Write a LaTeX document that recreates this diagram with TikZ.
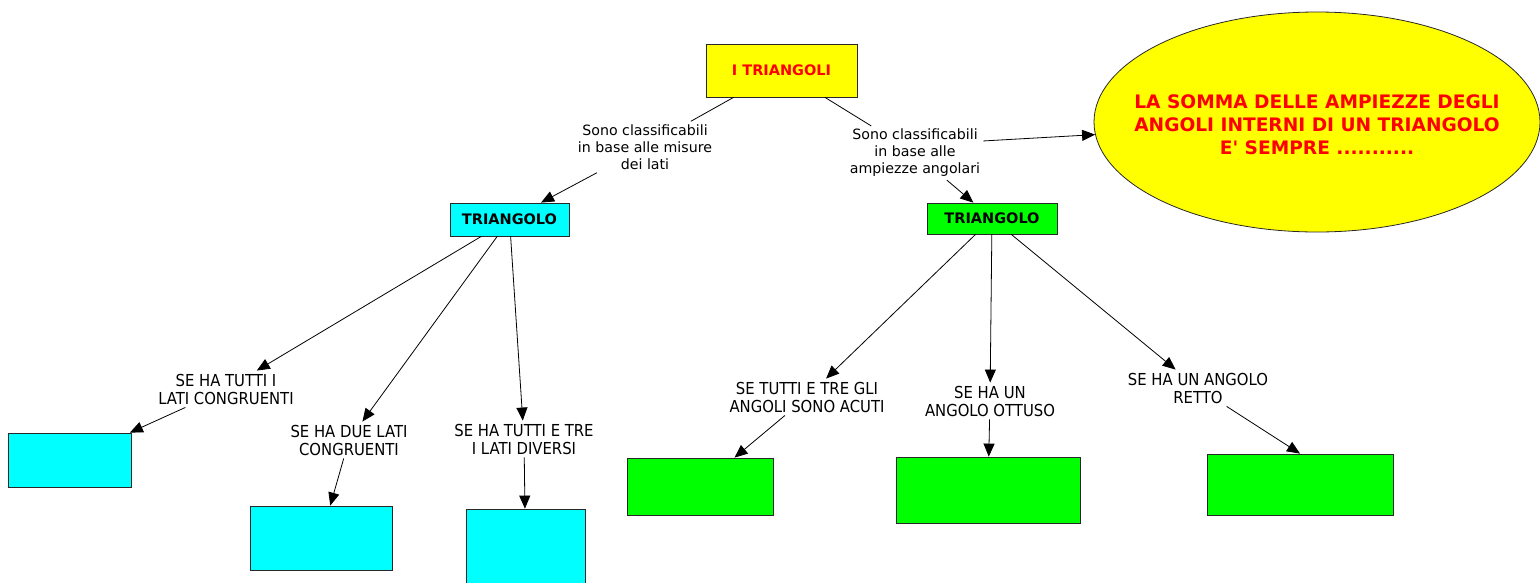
\documentclass[tikz,border=0pt]{standalone}
\usepackage{fontspec}
\setmainfont{DejaVu Sans}
\newfontfamily\condfont{DejaVu Sans Condensed}
\usetikzlibrary{arrows.meta,shapes.geometric}
\definecolor{mapyellow}{RGB}{255,255,0}
\definecolor{mapred}{RGB}{255,0,0}
\definecolor{mapcyan}{RGB}{0,255,255}
\definecolor{mapgreen}{RGB}{0,255,0}
\definecolor{mapedge}{RGB}{40,40,40}

\begin{document}
\begin{tikzpicture}[x=1pt, y=-1pt,
  box/.style={draw=mapedge, line width=0.8pt, inner sep=0pt},
  link/.style={line width=0.8pt},
  arr/.style={line width=0.8pt, -{Triangle[length=13pt,width=11pt]}},
  why/.style={align=center, font=\fontsize{14.2}{17}\selectfont, inner sep=3pt},
  cond/.style={align=center, font=\condfont\fontsize{16.5}{18}\selectfont, inner sep=3pt}]
\useasboundingbox (0,0) rectangle (1540,582);

% Top of the map
\node[box, fill=mapyellow, minimum width=151pt, minimum height=53pt,
  font=\bfseries\fontsize{14.5}{16}\selectfont, text=mapred] (top) at (781.5,70.5) {I TRIANGOLI};
\node[box, ellipse, fill=mapyellow, minimum width=446pt, minimum height=220pt] (sum) at (1317,122) {};
\node[align=center, font=\bfseries\fontsize{18.6}{23}\selectfont, text=mapred] (sumtext) at (1317,125)
  {LA SOMMA DELLE AMPIEZZE DEGLI\\ANGOLI INTERNI DI UN TRIANGOLO\\E\textquotesingle{} SEMPRE ...........};

% Linking phrases
\node[why] (bysides) at (645,147) {Sono classificabili\\in base alle misure\\dei lati};
\node[why] (byangles) at (915,153) {Sono classificabili\\in base alle\\ampiezze angolari};

% Middle boxes
\node[box, fill=mapcyan, minimum width=119pt, minimum height=33pt,
  font=\bfseries\fontsize{14.5}{16}\selectfont] (tsides) at (509.5,219.5) {TRIANGOLO};
\node[box, fill=mapgreen, minimum width=130pt, minimum height=31pt,
  font=\bfseries\fontsize{14.5}{16}\selectfont] (tangles) at (992,218.5) {TRIANGOLO};

\draw[link] (top) -- (bysides);
\draw[link] (top) -- (byangles);
\draw[arr] (bysides) -- (tsides);
\draw[arr] (byangles) -- (tangles);
\draw[arr] (byangles.10) -- (sum);

% Classification by sides
\node[cond] (equi) at (226,389) {SE HA TUTTI I\\LATI CONGRUENTI};
\node[cond] (iso) at (349,440) {SE HA DUE LATI\\CONGRUENTI};
\node[cond] (scal) at (524,439) {SE HA TUTTI E TRE\\I LATI DIVERSI};
\node[box, fill=mapcyan, minimum width=123pt, minimum height=54pt] (equibox) at (69.5,460) {};
\node[box, fill=mapcyan, minimum width=142pt, minimum height=64pt] (isobox) at (321,538) {};
\node[box, fill=mapcyan, minimum width=119pt, minimum height=80pt] (scalbox) at (525.5,549) {};

\draw[arr] (tsides) -- (equi);
\draw[arr] (tsides) -- (iso);
\draw[arr] (tsides) -- (scal);
\draw[arr] (equi) -- (equibox);
\draw[arr] (iso) -- (isobox);
\draw[arr] (scal) -- (scalbox);

% Classification by angles
\node[cond] (acute) at (807,397) {SE TUTTI E TRE GLI\\ANGOLI SONO ACUTI};
\node[cond] (obtuse) at (990,401) {SE HA UN\\ANGOLO OTTUSO};
\node[cond] (right) at (1198,388) {SE HA UN ANGOLO\\RETTO};
\node[box, fill=mapgreen, minimum width=146pt, minimum height=57pt] (acutebox) at (700,486.5) {};
\node[box, fill=mapgreen, minimum width=184pt, minimum height=66pt] (obtusebox) at (988,490) {};
\node[box, fill=mapgreen, minimum width=186pt, minimum height=61pt] (rightbox) at (1300,484.5) {};

\draw[arr] (tangles) -- (acute);
\draw[arr] (tangles) -- (obtuse);
\draw[arr] (tangles) -- (right);
\draw[arr] (acute) -- (acutebox);
\draw[arr] (obtuse) -- (obtusebox);
\draw[arr] (right) -- (rightbox.north);
\end{tikzpicture}
\end{document}
